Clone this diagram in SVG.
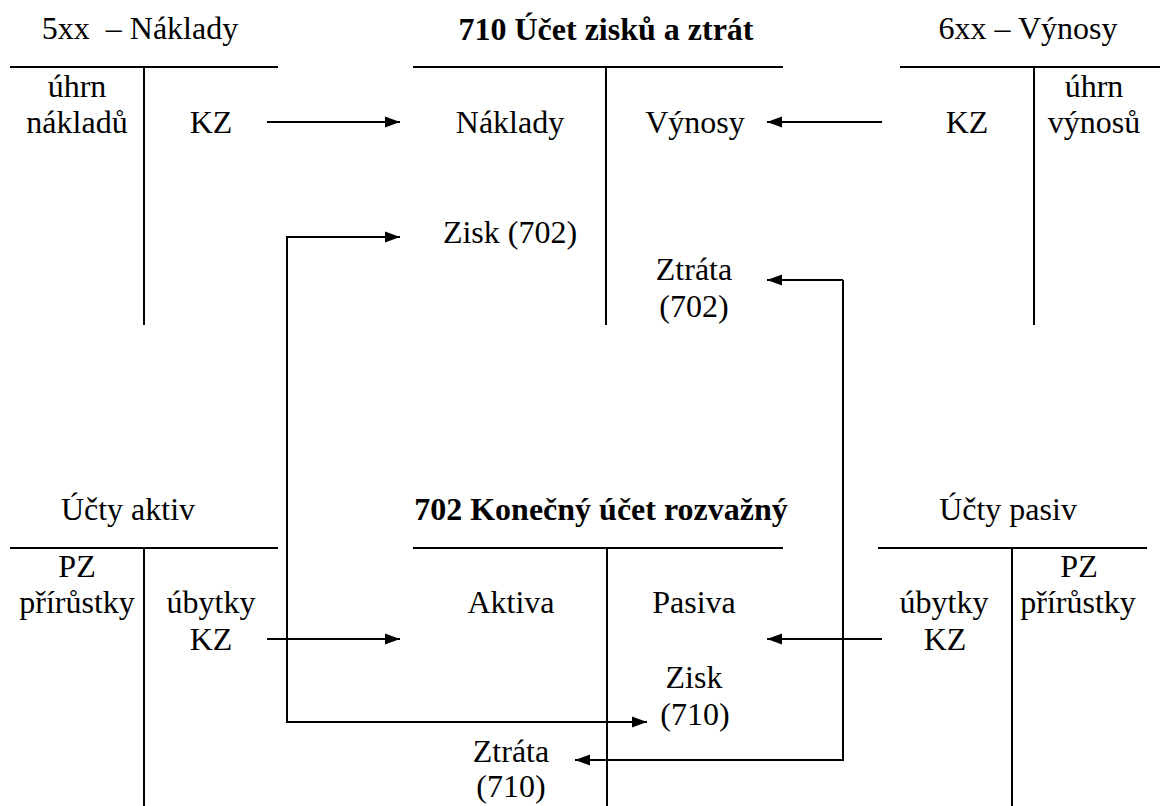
<svg xmlns="http://www.w3.org/2000/svg" width="1160" height="806" viewBox="0 0 1160 806">
<style>
text{font-family:"Liberation Serif","Times New Roman",serif;font-size:32px;fill:#000;text-anchor:middle}
.b{font-weight:bold}
.t{stroke:#000;stroke-width:2;fill:none}
.c{stroke:#000;stroke-width:2;fill:none;marker-end:url(#ah)}
</style>
<defs>
<marker id="ah" markerUnits="userSpaceOnUse" markerWidth="16" markerHeight="12" refX="15" refY="6" orient="auto">
<path d="M0,0.5 L15,6 L0,11.5 z" fill="#000"/>
</marker>
</defs>
<rect width="1160" height="806" fill="#fff"/>
<g id="naklady">
<text x="140" y="39" xml:space="preserve">5xx  – Náklady</text>
<path class="t" d="M10,67 H278 M144,67 V325"/>
<text x="77" y="97">úhrn</text>
<text x="77" y="133">nákladů</text>
<text x="211" y="133">KZ</text>
</g>
<g id="ucet710">
<text class="b" x="606" y="40">710 Účet zisků a ztrát</text>
<path class="t" d="M413,67 H783 M606,67 V325"/>
<text x="510" y="133">Náklady</text>
<text x="695" y="133">Výnosy</text>
<text x="510" y="243">Zisk (702)</text>
<text x="694" y="280">Ztráta</text>
<text x="694" y="317">(702)</text>
</g>
<g id="vynosy">
<text x="1028" y="39">6xx – Výnosy</text>
<path class="t" d="M900,67 H1160 M1034,67 V325"/>
<text x="967" y="133">KZ</text>
<text x="1094" y="97">úhrn</text>
<text x="1094" y="133">výnosů</text>
</g>
<g id="aktiva">
<text x="128" y="520">Účty aktiv</text>
<path class="t" d="M10,548 H278 M144,548 V806"/>
<text x="77" y="577">PZ</text>
<text x="77" y="613">přírůstky</text>
<text x="211" y="613">úbytky</text>
<text x="211" y="650">KZ</text>
</g>
<g id="ucet702">
<text class="b" x="601" y="520">702 Konečný účet rozvažný</text>
<path class="t" d="M413,548 H783 M607,548 V806"/>
<text x="511" y="613">Aktiva</text>
<text x="694" y="613">Pasiva</text>
<text x="694" y="688">Zisk</text>
<text x="695" y="725">(710)</text>
<text x="511" y="762">Ztráta</text>
<text x="511" y="797">(710)</text>
</g>
<g id="pasiva">
<text x="1008" y="520">Účty pasiv</text>
<path class="t" d="M878,548 H1147 M1012,548 V806"/>
<text x="1079" y="577">PZ</text>
<text x="1078" y="613">přírůstky</text>
<text x="944" y="613">úbytky</text>
<text x="945" y="650">KZ</text>
</g>
<g id="connectors">
<path class="c" d="M267,122 H400"/>
<path class="c" d="M882,122 H767"/>
<path class="c" d="M287,720 V237 H400"/>
<path class="c" d="M287,237 V722 H647"/>
<path class="c" d="M843,280 H767"/>
<path class="c" d="M843,280 V760 H575"/>
<path class="c" d="M267,639 H400"/>
<path class="c" d="M882,639 H767"/>
</g>
</svg>
